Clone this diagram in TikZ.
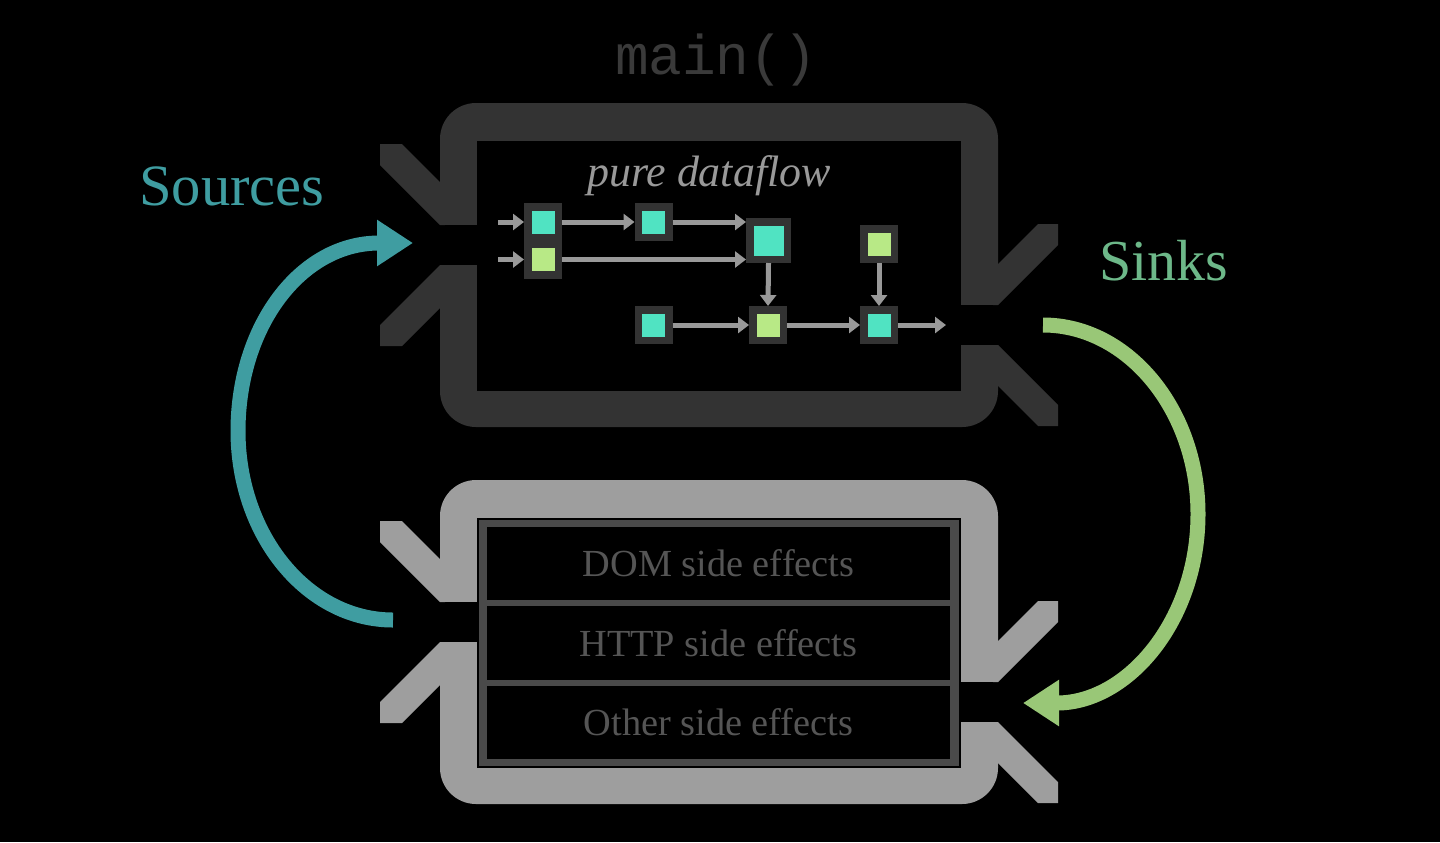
\documentclass[tikz,border=0pt]{standalone}
\usepackage{fontspec}
\setmainfont{Liberation Serif}
\setmonofont{Liberation Mono}
\usetikzlibrary{arrows.meta}

\definecolor{framedark}{HTML}{333333}
\definecolor{framelight}{HTML}{9E9E9E}
\definecolor{panel}{HTML}{4A4A4A}
\definecolor{celltext}{HTML}{555555}
\definecolor{flowgray}{HTML}{999999}
\definecolor{flowteal}{HTML}{50E3C2}
\definecolor{flowgreen}{HTML}{B8E986}
\definecolor{maingray}{HTML}{3A3A3A}
\definecolor{srcteal}{HTML}{3F9DA1}
\definecolor{sinkarrow}{HTML}{99C777}
\definecolor{sinkgreen}{HTML}{6DB889}

\begin{document}
\begin{tikzpicture}[x=0.2mm, y=-0.2mm, line join=miter,
    flowbox/.style={draw=framedark, line width=1.5mm, minimum size=6.1mm, inner sep=0pt},
    tealbox/.style={flowbox, fill=flowteal},
    greenbox/.style={flowbox, fill=flowgreen},
    flow/.style={->, >={Triangle[length=2.2mm, width=3.2mm]}, line width=1mm, color=flowgray},
    bigarrow/.style={->, >={Triangle[length=7.2mm, width=8.8mm]}, line width=3mm},
    cell/.style={fill=black, minimum width=92.6mm, minimum height=14.7mm, inner sep=0pt, text=celltext, font=\fontsize{21.8}{26}\selectfont}]
    \fill[black] (0,0) rectangle (1440,842);

    % the two boxes with their in/out notches
    \foreach \col/\dy in {framedark/103, framelight/480}{
      \begin{scope}[shift={(0,\dy)}]
        \fill[\col, rounded corners=7.2mm] (440,0) rectangle (998,324);
        \fill[black] (477,38) rectangle (961,288);
        \fill[black] (439,122) rectangle (478,162);
        \fill[black] (960,202) rectangle (999,242);
        \fill[\col] (380,41) -- (402,41) -- (445,84) -- (445,122) -- (440,122) -- (380,62) -- cycle;
        \fill[\col] (380,243) -- (402,243) -- (445,200) -- (445,162) -- (440,162) -- (380,222) -- cycle;
        \fill[\col] (993,166) -- (1038,121) -- (1058,121) -- (1058,142) -- (998,202) -- (993,202) -- cycle;
        \fill[\col] (993,242) -- (998,242) -- (1058,302) -- (1058,323) -- (1038,323) -- (993,278) -- cycle;
      \end{scope}
    }

    \node[text=maingray, font=\ttfamily\fontsize{31.9}{38}\selectfont, anchor=base] (title) at (716,74) {main()};
    \node[text=flowgray, font=\itshape\fontsize{25}{30}\selectfont, anchor=base] (pure) at (709,186) {pure dataflow};
    \node[text=srcteal, font=\fontsize{33.3}{40}\selectfont, anchor=base] (sources) at (232,205) {Sources};
    \node[text=sinkgreen, font=\fontsize{33}{40}\selectfont, anchor=base] (sinks) at (1164,280) {Sinks};

    % dataflow inside main()
    \node[tealbox] (srcA) at (543,222) {};
    \node[greenbox] (srcB) at (543,259.5) {};
    \node[tealbox] (mapA) at (653.5,222) {};
    \node[tealbox, minimum size=7.5mm] (comb) at (768.5,240.5) {};
    \node[greenbox] (lone) at (879,244) {};
    \node[tealbox] (late) at (653.5,325) {};
    \node[greenbox] (mid) at (768,325) {};
    \node[tealbox] (last) at (879,325) {};
    \coordinate (inA) at (498,222);
    \coordinate (inB) at (498,259.5);
    \coordinate (outC) at (946,325);
    \draw[flow] (inA) -- (srcA.west);
    \draw[flow] (inB) -- (srcB.west);
    \draw[flow] (srcA.east) -- (mapA.west);
    \draw[flow] (mapA.east) -- (mapA.east -| comb.west);
    \draw[flow] (srcB.east) -- (srcB.east -| comb.west);
    \draw[flow] (comb.south) -- (mid.north);
    \draw[flow] (lone.south) -- (last.north);
    \draw[flow] (late.east) -- (mid.west);
    \draw[flow] (mid.east) -- (last.west);
    \draw[flow] (last.east) -- (outC);

    % side effects
    \filldraw[fill=panel, draw=black, line width=0.3mm] (478,519) rectangle (960,767);
    \node[cell] (dom) at (718.5,563.5) {DOM side effects};
    \node[cell] (http) at (718.5,643) {HTTP side effects};
    \node[cell] (other) at (718.5,722.5) {Other side effects};

    \coordinate (srcFrom) at (393,620);
    \coordinate (srcTo) at (413,243);
    \draw[bigarrow, color=srcteal] (srcFrom) .. controls (307,620) and (238,535) .. (238,431) .. controls (238,327) and (300,243) .. (srcTo);
    \coordinate (sinkFrom) at (1043,325);
    \coordinate (sinkTo) at (1023,703);
    \draw[bigarrow, color=sinkarrow] (sinkFrom) .. controls (1128,325) and (1198,410) .. (1198,514) .. controls (1198,620) and (1128,703) .. (sinkTo);
  \end{tikzpicture}
\end{document}
